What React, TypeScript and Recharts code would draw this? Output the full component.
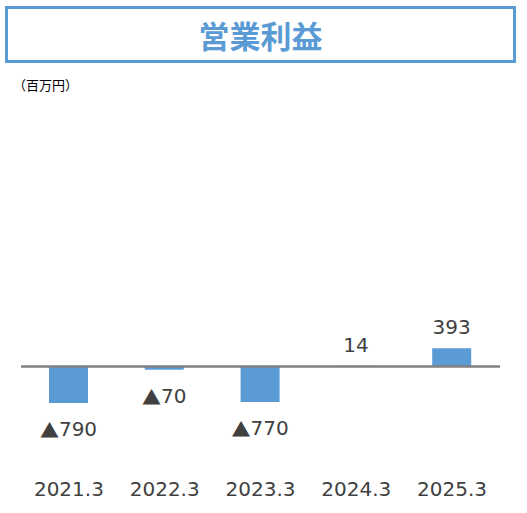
import { Bar, BarChart, LabelList, ReferenceLine, XAxis, YAxis } from "recharts";

// 営業利益（百万円）
const periods = ["2021.3", "2022.3", "2023.3", "2024.3", "2025.3"];
const profit = [-790, -70, -770, 14, 393];

const data = periods.map((p, i) => ({ period: p, value: profit[i] }));

const BLUE = "#5B9BD5";
const TEXT = "#404040";
const FONT = "'DejaVu Sans', Verdana, sans-serif";
const CJK = "'Noto Sans CJK JP', sans-serif";

function ValueLabel(props: any) {
  const { x, y, width, height, value } = props;
  const top = Math.min(y, y + height);
  const bottom = Math.max(y, y + height);
  const cx = x + width / 2;
  if (value < 0) {
    return (
      <text
        x={cx}
        y={bottom + 26}
        textAnchor="middle"
        dominantBaseline="central"
        fill={TEXT}
        fontSize={20}
        fontFamily={FONT}
      >
        <tspan fontFamily={CJK} fontSize={19}>▲</tspan>
        {Math.abs(value)}
      </text>
    );
  }
  return (
    <text
      x={cx}
      y={top - 21}
      textAnchor="middle"
      dominantBaseline="central"
      fill={TEXT}
      fontSize={20}
      fontFamily={FONT}
    >
      {value}
    </text>
  );
}

function PeriodTick(props: any) {
  const { x, y, payload } = props;
  return (
    <text
      x={x}
      y={y + 22}
      textAnchor="middle"
      dominantBaseline="central"
      fill={TEXT}
      fontSize={20}
      fontFamily={FONT}
    >
      {payload.value}
    </text>
  );
}

export default function App() {
  return (
    <div
      style={{
        position: "absolute",
        left: 0,
        top: 0,
        width: 527,
        height: 513,
        background: "#fff",
      }}
    >
      <div
        style={{
          position: "absolute",
          left: 5,
          top: 6,
          width: 511,
          height: 57,
          boxSizing: "border-box",
          border: `3.5px solid ${BLUE}`,
          display: "flex",
          alignItems: "center",
          justifyContent: "center",
          color: BLUE,
          fontFamily: CJK,
          fontWeight: 700,
          fontSize: 31,
          letterSpacing: 0,
        }}
      >
        営業利益
      </div>
      <div
        style={{
          position: "absolute",
          left: 13,
          top: 76,
          fontFamily: CJK,
          fontSize: 13,
          color: "#000",
          lineHeight: "18px",
        }}
      >
        （百万円）
      </div>
      <div style={{ position: "absolute", left: 0, top: 0 }}>
        <BarChart
          width={527}
          height={513}
          data={data}
          margin={{ top: 100, right: 27, bottom: 0, left: 21 }}
        >
          <XAxis
            dataKey="period"
            axisLine={false}
            tickLine={false}
            tick={<PeriodTick />}
            height={54}
            interval={0}
          />
          <YAxis hide domain={[-2000, 5760]} />
          <Bar
            dataKey="value"
            fill={BLUE}
            barSize={39}
            isAnimationActive={false}
          >
            <LabelList dataKey="value" content={<ValueLabel />} />
          </Bar>
          <ReferenceLine y={0} stroke="#808080" strokeWidth={2.6} />
        </BarChart>
      </div>
    </div>
  );
}
